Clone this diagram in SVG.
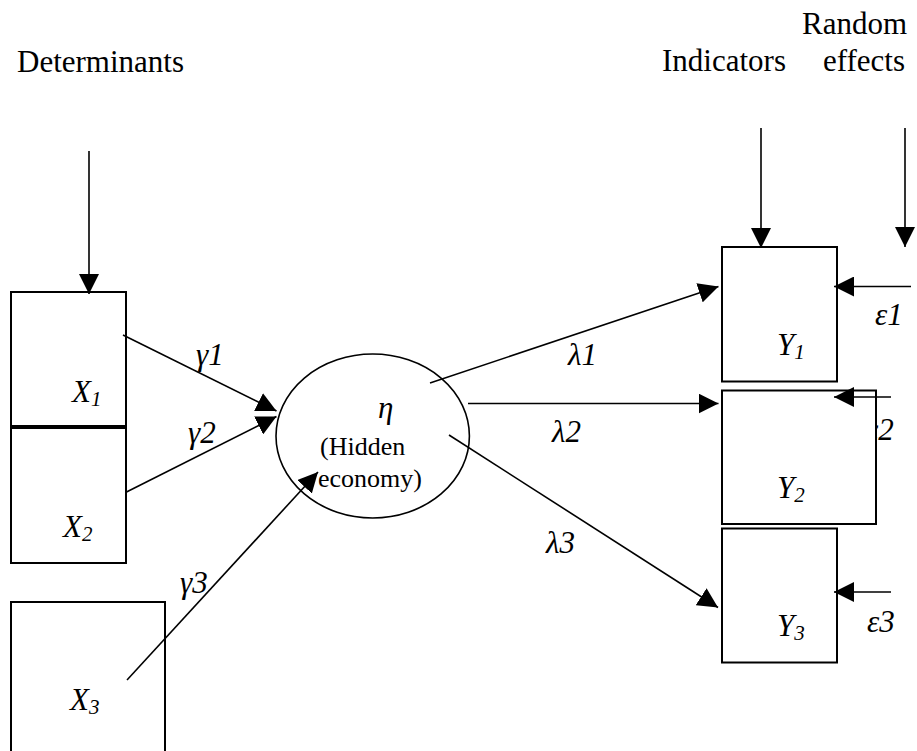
<svg xmlns="http://www.w3.org/2000/svg" width="917" height="751" viewBox="0 0 917 751">
<style>
.f{font-family:'Liberation Serif','Times New Roman',serif}
.h{font-size:31px}
.i{font-size:31px;font-style:italic}
.s{font-size:21px;font-style:italic}
.e{font-size:26px}
.box{fill:#fff;stroke:#000;stroke-width:2}
.ln{stroke:#000;stroke-width:1.6;fill:none;marker-end:url(#ah)}
</style>
<defs>
<marker id="ah" viewBox="0 0 20 20" refX="20" refY="10" markerWidth="20" markerHeight="20" markerUnits="userSpaceOnUse" orient="auto">
<path d="M0,0 L20,10 L0,20 z" fill="#000"/>
</marker>
</defs>
<rect width="917" height="751" fill="#fff"/>
<g class="f" fill="#000">
<g id="headers">
<text class="h" x="17" y="72">Determinants</text>
<text class="h" x="802" y="34">Random</text>
<text class="h" x="662" y="71">Indicators</text>
<text class="h" x="823" y="71">effects</text>
</g>
<g id="eps2label"><text class="i" x="866" y="440">ε2</text></g>
<g id="X1"><rect class="box" x="11" y="292" width="115" height="134"/><text class="i" x="72" y="402">X<tspan class="s" dy="4">1</tspan></text></g>
<g id="X2"><rect class="box" x="11" y="428" width="115" height="135"/><text class="i" x="63" y="537">X<tspan class="s" dy="4">2</tspan></text></g>
<g id="X3"><rect class="box" x="11" y="602" width="154" height="170"/><text class="i" x="70" y="710">X<tspan class="s" dy="4">3</tspan></text></g>
<g id="eta"><ellipse cx="372.7" cy="436" rx="96.7" ry="82" fill="#fff" stroke="#000" stroke-width="1.6"/>
<text class="i" x="378" y="418">η</text>
<text class="e" x="320" y="455">(Hidden</text>
<text class="e" x="318" y="487">economy)</text></g>
<g id="Y1"><rect class="box" x="722" y="247" width="115" height="134.5"/><text class="i" x="777" y="355">Y<tspan class="s" dy="4">1</tspan></text></g>
<g id="Y2"><rect class="box" x="722" y="390.5" width="154" height="133.5"/><text class="i" x="777" y="498">Y<tspan class="s" dy="4">2</tspan></text></g>
<g id="Y3"><rect class="box" x="722" y="528.5" width="115" height="134"/><text class="i" x="777" y="636">Y<tspan class="s" dy="4">3</tspan></text></g>
<g id="labels">
<text class="i" x="196" y="365">γ1</text>
<text class="i" x="188" y="443">γ2</text>
<text class="i" x="180" y="593">γ3</text>
<text class="i" x="568" y="365">λ1</text>
<text class="i" x="552" y="442">λ2</text>
<text class="i" x="546" y="553">λ3</text>
<text class="i" x="875" y="325">ε1</text>
<text class="i" x="867" y="632">ε3</text>
</g>
</g>
<g id="connectors">
<line class="ln" x1="89" y1="151" x2="89" y2="294"/>
<line class="ln" x1="761" y1="128" x2="761" y2="248"/>
<line class="ln" x1="905" y1="128" x2="905" y2="247"/>
<line class="ln" x1="123" y1="335" x2="276.5" y2="411"/>
<line class="ln" x1="126.5" y1="492" x2="276.5" y2="416.5"/>
<line class="ln" x1="127" y1="680" x2="318" y2="472"/>
<line class="ln" x1="430" y1="383" x2="718.5" y2="286.5"/>
<line class="ln" x1="468" y1="403.5" x2="718.5" y2="403.5"/>
<line class="ln" x1="449" y1="435" x2="718" y2="607.5"/>
<line class="ln" x1="911" y1="286.5" x2="834" y2="286.5"/>
<line class="ln" x1="891" y1="397" x2="834" y2="397"/>
<line class="ln" x1="891" y1="592" x2="834" y2="592"/>
</g>
</svg>
